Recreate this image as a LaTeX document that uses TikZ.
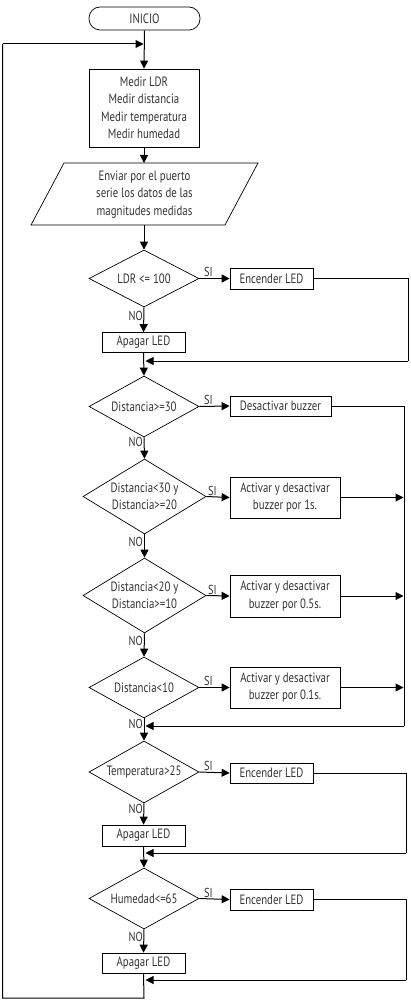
\documentclass[tikz,border=0pt]{standalone}
\usepackage{fontspec}
\setmainfont[FakeStretch=0.8]{PT Sans}
\usetikzlibrary{shapes.geometric,arrows.meta}
\definecolor{txt}{HTML}{333333}
\begin{document}
\begin{tikzpicture}[x=1pt,y=-1pt,
  every node/.style={font=\fontsize{13.5}{17.5}\selectfont, text=txt},
  box/.style={draw, line width=0.7pt, inner sep=0pt, align=center},
  dia/.style={draw, diamond, line width=0.7pt, inner sep=0pt,
    label={[align=center, inner sep=0pt]center:#1}},
  term/.style={draw, rounded corners=11pt, line width=0.7pt, inner sep=0pt},
  arr/.style={line width=1pt, -{Triangle[length=8pt,width=8pt]}},
  ln/.style={line width=1pt},
  lab/.style={inner sep=0pt, font=\fontsize{13}{13}\selectfont}]
\useasboundingbox (0,0) rectangle (411,1000);
% nodes
\node[term, minimum width=111, minimum height=23] (inicio) at (144.5,18.5) {INICIO};
\node[box, minimum width=110, minimum height=78] (medir) at (144,108) {Medir LDR\\Medir distancia\\Medir temperatura\\Medir humedad};
\coordinate (pt) at (144,163);
\coordinate (pb) at (144,225);
\draw[line width=0.7pt] (64,163) -- (258,163) -- (225,225) -- (31,225) -- cycle;
\node[align=center, inner sep=0pt] (enviar) at (144.5,194.5) {Enviar por el puerto\\serie los datos de las\\magnitudes medidas};
\node[dia={LDR <= 100}, minimum width=110, minimum height=57] (d1) at (144,278.5) {};
\node[box, minimum width=83, minimum height=21] (e1) at (271.5,278.5) {Encender LED};
\node[box, minimum width=83, minimum height=20] (a1) at (143.5,342.5) {Apagar LED};
\node[dia={Distancia>=30}, minimum width=110, minimum height=61] (d2) at (144,406.5) {};
\node[box, minimum width=101, minimum height=20] (b2) at (280.5,406) {Desactivar buzzer};
\node[dia={Distancia<30 y\\Distancia>=20}, minimum width=123, minimum height=75] (d3) at (144.5,496.5) {};
\node[box, minimum width=110, minimum height=41] (b3) at (285,497.5) {Activar y desactivar\\buzzer por 1s.};
\node[dia={Distancia<20 y\\Distancia>=10}, minimum width=123, minimum height=75] (d4) at (144.5,595.5) {};
\node[box, minimum width=110, minimum height=42] (b4) at (285,596) {Activar y desactivar\\buzzer por 0.5s.};
\node[dia={Distancia<10}, minimum width=110, minimum height=61] (d5) at (144,687.5) {};
\node[box, minimum width=110, minimum height=41] (b5) at (285,687.5) {Activar y desactivar\\buzzer por 0.1s.};
\node[dia={Temperatura>25}, minimum width=110, minimum height=62] (d6) at (144,772) {};
\node[box, minimum width=83, minimum height=20] (e6) at (271.5,773) {Encender LED};
\node[box, minimum width=83, minimum height=21] (a6) at (143.5,835.5) {Apagar LED};
\node[dia={Humedad<=65}, minimum width=110, minimum height=61] (d7) at (144,898.5) {};
\node[box, minimum width=83, minimum height=21] (e7) at (271.5,899.5) {Encender LED};
\node[box, minimum width=83, minimum height=20] (a7) at (143.5,963) {Apagar LED};
% coordinates
\coordinate (r1) at (408,361);  \coordinate (m1) at (145.5,361);
\coordinate (r2) at (404,726);  \coordinate (m2) at (145.5,726);
\coordinate (t3) at (403.5,497.5);
\coordinate (t4) at (403.5,596);
\coordinate (t5) at (403.5,687.5);
\coordinate (r6) at (406,853);  \coordinate (m6) at (145.5,853);
\coordinate (r7) at (406,980);  \coordinate (m7) at (145.5,980);
\coordinate (l1) at (144,998);  \coordinate (l2) at (2.5,998);
\coordinate (l3) at (2.5,44);   \coordinate (l4) at (143.5,44);
% connectors
\draw[arr] (inicio.south) -- (medir.north);
\draw[arr] (medir.south) -- (pt);
\draw[arr] (pb) -- (d1.north);
\draw[arr] (d1.east) -- (e1.west);
\draw[arr] (d1.south) -- (a1.north);
\draw[ln] (e1.east) -| (r1);
\draw[arr] (r1) -- (m1);
\draw[arr] (a1.south) -- (d2.north);
\draw[arr] (d2.east) -- (b2.west);
\draw[ln] (b2.east) -| (r2);
\draw[arr] (r2) -- (m2);
\draw[arr] (d2.south) -- (d3.north);
\draw[arr] (d3.east) -- (b3.west);
\draw[arr] (b3.east) -- (t3);
\draw[arr] (d3.south) -- (d4.north);
\draw[arr] (d4.east) -- (b4.west);
\draw[arr] (b4.east) -- (t4);
\draw[arr] (d4.south) -- (d5.north);
\draw[arr] (d5.east) -- (b5.west);
\draw[arr] (b5.east) -- (t5);
\draw[arr] (d5.south) -- (d6.north);
\draw[arr] (d6.east) -- (e6.west);
\draw[ln] (e6.east) -| (r6);
\draw[arr] (r6) -- (m6);
\draw[arr] (d6.south) -- (a6.north);
\draw[arr] (a6.south) -- (d7.north);
\draw[arr] (d7.east) -- (e7.west);
\draw[ln] (e7.east) -| (r7);
\draw[arr] (r7) -- (m7);
\draw[arr] (d7.south) -- (a7.north);
\draw[ln] (a7.south) -- (l1) -- (l2) -- (l3);
\draw[arr] (l3) -- (l4);
% labels
\node[lab, anchor=south west] (si1) at (204,277) {SI};
\node[lab, anchor=south west] (si2) at (204,405) {SI};
\node[lab, anchor=south west] (si3) at (208,496) {SI};
\node[lab, anchor=south west] (si4) at (208,595) {SI};
\node[lab, anchor=south west] (si5) at (204,686) {SI};
\node[lab, anchor=south west] (si6) at (204,771) {SI};
\node[lab, anchor=south west] (si7) at (204,898) {SI};
\node[lab, anchor=east] (no1) at (143,316) {NO};
\node[lab, anchor=east] (no2) at (143,442) {NO};
\node[lab, anchor=east] (no3) at (143,542) {NO};
\node[lab, anchor=east] (no4) at (143,641) {NO};
\node[lab, anchor=east] (no5) at (143,724) {NO};
\node[lab, anchor=east] (no6) at (143,809) {NO};
\node[lab, anchor=east] (no7) at (143,937) {NO};
\end{tikzpicture}
\end{document}
